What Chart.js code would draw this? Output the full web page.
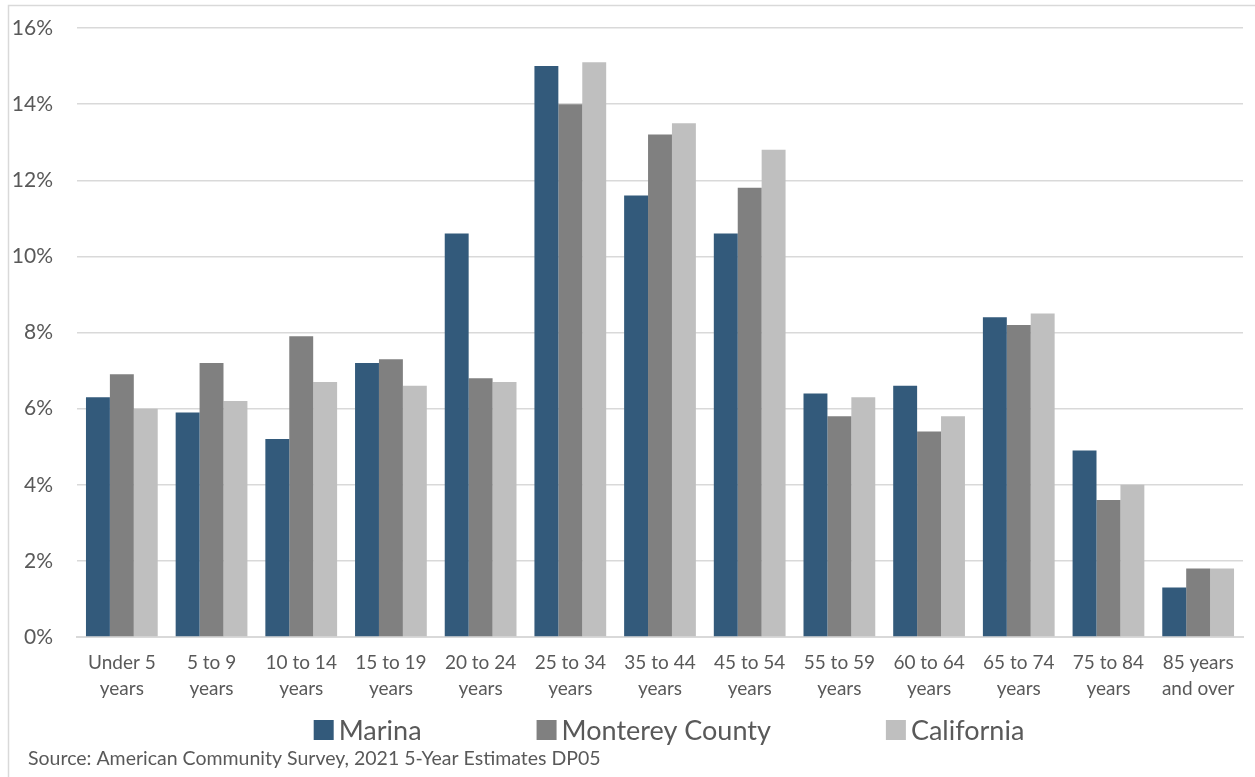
<!DOCTYPE html>
<html>
<head>
<meta charset="utf-8">
<title>Age Distribution</title>
<script src="https://cdn.jsdelivr.net/npm/chart.js@4/dist/chart.umd.min.js"></script>
<style>
  html, body { margin: 0; padding: 0; background: #fff; }
  #wrap { position: relative; width: 1255px; height: 777px; }
</style>
</head>
<body>
<div id="wrap"><canvas id="c" width="1255" height="777"></canvas></div>
<script>
// Age groups (two-line labels)
const ageGroups = [
  ["Under 5", "years"], ["5 to 9", "years"], ["10 to 14", "years"],
  ["15 to 19", "years"], ["20 to 24", "years"], ["25 to 34", "years"],
  ["35 to 44", "years"], ["45 to 54", "years"], ["55 to 59", "years"],
  ["60 to 64", "years"], ["65 to 74", "years"], ["75 to 84", "years"],
  ["85 years", "and over"]
];

// Share of population by age group (%)
const marina    = [6.3, 5.9, 5.2, 7.2, 10.6, 15.0, 11.6, 10.6, 6.4, 6.6, 8.4, 4.9, 1.3];
const monterey  = [6.9, 7.2, 7.9, 7.3, 6.8, 14.0, 13.2, 11.8, 5.8, 5.4, 8.2, 3.6, 1.8];
const california = [6.0, 6.2, 6.7, 6.6, 6.7, 15.1, 13.5, 12.8, 6.3, 5.8, 8.5, 4.0, 1.8];

const seriesNames = ["Marina", "Monterey County", "California"];
const seriesColors = ["#335a7b", "#808080", "#bfbfbf"];

const sourceNote = "Source: American Community Survey, 2021 5-Year Estimates DP05";

const FONT = "Lato, 'Open Sans', sans-serif";
const TEXT = "#595959";

// Outer frame, legend row and source line
const decorations = {
  id: "decorations",
  beforeDraw(chart) {
    const ctx = chart.ctx;
    ctx.save();
    ctx.fillStyle = "#fff";
    ctx.fillRect(0, 0, chart.width, chart.height);
    ctx.strokeStyle = "#d9d9d9";
    ctx.lineWidth = 1.5;
    ctx.strokeRect(8.5, 5.5, chart.width + 10, chart.height + 10);
    ctx.restore();
  },
  afterDraw(chart) {
    const ctx = chart.ctx;
    const area = chart.chartArea;
    ctx.save();
    // legend
    ctx.font = "27px " + FONT;
    ctx.textBaseline = "middle";
    const box = 20, textGap = 5, itemGap = 115;
    const items = chart.data.datasets.map(ds => ({
      label: ds.label, color: ds.backgroundColor,
      w: box + textGap + ctx.measureText(ds.label).width
    }));
    const total = items.reduce((s, it) => s + it.w, 0) + itemGap * (items.length - 1);
    let x = (area.left + area.right) / 2 + 9 - total / 2;
    const y = 730;
    items.forEach(it => {
      ctx.fillStyle = it.color;
      ctx.fillRect(x, y - box / 2, box, box);
      ctx.fillStyle = TEXT;
      ctx.textAlign = "left";
      ctx.fillText(it.label, x + box + textGap, y + 1);
      x += it.w + itemGap;
    });
    // source
    ctx.font = "19.5px " + FONT;
    ctx.fillStyle = TEXT;
    ctx.fillText(sourceNote, 28, 759);
    ctx.restore();
  }
};

new Chart(document.getElementById("c"), {
  type: "bar",
  data: {
    labels: ageGroups,
    datasets: [
      { label: seriesNames[0], data: marina, backgroundColor: seriesColors[0] },
      { label: seriesNames[1], data: monterey, backgroundColor: seriesColors[1] },
      { label: seriesNames[2], data: california, backgroundColor: seriesColors[2] }
    ]
  },
  options: {
    responsive: false,
    animation: false,
    devicePixelRatio: 1,
    layout: { padding: { top: 28, right: 12, bottom: 0, left: 0 } },
    datasets: { bar: { categoryPercentage: 0.8, barPercentage: 1.0, borderWidth: 0 } },
    plugins: {
      legend: { display: false },
      tooltip: { enabled: false }
    },
    scales: {
      x: {
        grid: { display: false, drawTicks: false },
        border: { display: true, color: "#d9d9d9", width: 2 },
        ticks: {
          color: TEXT,
          font: { family: FONT, size: 19, lineHeight: 1.38 },
          padding: 13,
          maxRotation: 0,
          autoSkip: false
        },
        afterFit(scale) { scale.height = 140; }
      },
      y: {
        min: 0, max: 16,
        grid: { color: "#d9d9d9", lineWidth: 1.5, drawTicks: false },
        border: { display: false },
        ticks: {
          stepSize: 2,
          color: TEXT,
          font: { family: FONT, size: 21 },
          padding: 24,
          callback: v => v + "%"
        },
        afterFit(scale) {
          scale.width = 77;
          scale.paddingTop = 0;
          scale.paddingBottom = 0;
        }
      }
    }
  },
  plugins: [decorations]
});
</script>
</body>
</html>
